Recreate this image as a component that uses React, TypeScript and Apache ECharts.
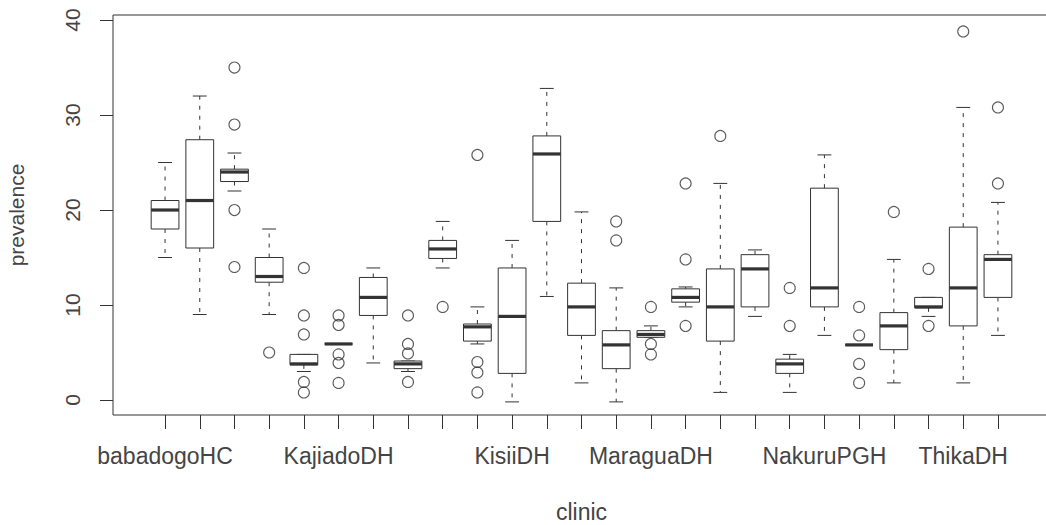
import React, { useEffect, useRef } from "react";
import * as echarts from "echarts";

// Tick labels (R drops overlapping ones; only these are visible)
const boxLabels = [
  "babadogoHC", "", "", "", "",
  "KajiadoDH", "", "", "", "",
  "KisiiDH", "", "", "",
  "MaraguaDH", "", "", "", "",
  "NakuruPGH", "", "", "",
  "ThikaDH", "",
];

const whiskerLow = [15, 9, 22, 9, 3, 5.9, 3.9, 3.0, 13.9, 5.9, -0.2, 10.9, 1.8, -0.2, 6.6, 9.8, 0.8, 8.8, 0.8, 6.8, 5.8, 1.8, 8.8, 1.8, 6.8];
const quartile1 = [18, 16, 23, 12.4, 3.7, 5.9, 8.9, 3.3, 14.9, 6.2, 2.8, 18.8, 6.8, 3.3, 6.6, 10.3, 6.2, 9.8, 2.8, 9.8, 5.8, 5.3, 9.7, 7.8, 10.8];
const medians = [20, 21, 24, 13, 3.8, 5.9, 10.8, 3.8, 15.9, 7.7, 8.8, 25.9, 9.8, 5.8, 6.9, 10.8, 9.8, 13.8, 3.8, 11.8, 5.8, 7.8, 9.8, 11.8, 14.8];
const quartile3 = [21, 27.4, 24.3, 15, 4.8, 5.9, 12.9, 4.1, 16.8, 8.0, 13.9, 27.8, 12.3, 7.3, 7.3, 11.7, 13.8, 15.3, 4.3, 22.3, 5.8, 9.2, 10.8, 18.2, 15.3];
const whiskerHigh = [25, 32, 26, 18, 4.8, 5.9, 13.9, 4.1, 18.8, 9.8, 16.8, 32.8, 19.8, 11.8, 7.8, 11.9, 22.8, 15.8, 4.8, 25.8, 5.8, 14.8, 10.8, 30.8, 20.8];
const outliers: number[][] = [
  [], [], [35, 29, 20, 14], [5], [13.9, 8.9, 6.9, 1.9, 0.8],
  [8.9, 7.9, 4.8, 3.9, 1.8], [], [8.9, 5.9, 4.9, 1.9], [9.8], [25.8, 4.0, 2.9, 0.8],
  [], [], [], [18.8, 16.8], [9.8, 5.9, 4.8],
  [22.8, 14.8, 7.8], [27.8], [], [11.8, 7.8], [],
  [9.8, 6.8, 3.8, 1.8], [19.8], [13.8, 7.8], [38.8], [30.8, 22.8],
];
const yTicks = [0, 10, 20, 30, 40];

const INK = "#333";
const TEXT = "#444";
const FONT = "Liberation Sans, Arial, sans-serif";

export default function App() {
  const ref = useRef<HTMLDivElement>(null);
  useEffect(() => {
    const chart = echarts.init(ref.current!, null, { renderer: "svg" });
    const n = boxLabels.length;
    const cats = ["pad-start", ...boxLabels.map((_, i) => String(i + 1)), "pad-end"];
    const boxData = boxLabels.map((_, i) => [
      i + 1, whiskerLow[i], quartile1[i], medians[i], quartile3[i], whiskerHigh[i],
    ]);
    const outlierData: number[][] = [];
    outliers.forEach((arr, i) => arr.forEach((v) => outlierData.push([i + 1, v])));

    const renderItem = (params: any, api: any) => {
      const x = api.value(0);
      const pLo = api.coord([x, api.value(1)]);
      const pQ1 = api.coord([x, api.value(2)]);
      const pMed = api.coord([x, api.value(3)]);
      const pQ3 = api.coord([x, api.value(4)]);
      const pHi = api.coord([x, api.value(5)]);
      const w = api.size([1, 0])[0] * 0.8;
      const cx = pMed[0];
      const hw = w / 2;
      const sw = w / 4;
      const thin = { stroke: INK, lineWidth: 1, fill: null };
      const dashed = { stroke: INK, lineWidth: 1, lineDash: [4, 6], fill: null };
      return {
        type: "group",
        children: [
          { type: "line", shape: { x1: cx, y1: pQ3[1], x2: cx, y2: pHi[1] }, style: dashed },
          { type: "line", shape: { x1: cx, y1: pQ1[1], x2: cx, y2: pLo[1] }, style: dashed },
          { type: "line", shape: { x1: cx - sw, y1: pHi[1], x2: cx + sw, y2: pHi[1] }, style: thin },
          { type: "line", shape: { x1: cx - sw, y1: pLo[1], x2: cx + sw, y2: pLo[1] }, style: thin },
          {
            type: "rect",
            shape: { x: cx - hw, y: pQ3[1], width: w, height: pQ1[1] - pQ3[1] },
            style: { stroke: INK, lineWidth: 1, fill: "#fff" },
          },
          { type: "line", shape: { x1: cx - hw, y1: pMed[1], x2: cx + hw, y2: pMed[1] }, style: { stroke: INK, lineWidth: 3.2 } },
        ],
      };
    };

    chart.setOption({
      animation: false,
      backgroundColor: "#fff",
      grid: {
        left: 113, right: -4, top: 15, bottom: 110,
        show: true, borderColor: INK, borderWidth: 1, backgroundColor: "transparent",
        containLabel: false, outerBoundsMode: "none",
      },
      xAxis: {
        type: "category",
        data: cats,
        boundaryGap: true,
        axisLine: { show: false, onZero: false },
        splitLine: { show: false },
        axisTick: {
          show: true,
          alignWithLabel: true,
          length: 14,
          lineStyle: { color: INK, width: 1 },
          interval: (idx: number) => idx >= 1 && idx <= n,
        },
        axisLabel: {
          show: true,
          interval: (idx: number) => idx >= 1 && idx <= n && boxLabels[idx - 1] !== "",
          formatter: (_v: string, idx: number) => (idx >= 1 && idx <= n ? boxLabels[idx - 1] : ""),
          fontSize: 23,
          fontFamily: FONT,
          color: TEXT,
          margin: 29,
        },
        name: "clinic",
        nameLocation: "middle",
        nameGap: 85,
        nameTextStyle: { fontSize: 23, fontFamily: FONT, color: TEXT },
      },
      yAxis: {
        type: "value",
        min: -1.58,
        max: 40.53,
        axisLine: { show: false, onZero: false },
        splitLine: { show: false },
        axisTick: {
          show: true,
          length: 13,
          lineStyle: { color: INK, width: 1 },
          customValues: yTicks,
        },
        axisLabel: {
          show: true,
          customValues: yTicks,
          rotate: 90,
          fontSize: 21,
          fontFamily: FONT,
          color: TEXT,
          margin: 30,
        },
        name: "prevalence",
        nameLocation: "middle",
        nameRotate: 90,
        nameGap: 86,
        nameTextStyle: { fontSize: 21, fontFamily: FONT, color: TEXT },
      },
      series: [
        {
          type: "custom",
          renderItem,
          data: boxData,
          encode: { x: 0, y: [1, 2, 3, 4, 5] },
          clip: false,
          z: 2,
        },
        {
          type: "scatter",
          data: outlierData,
          symbol: "circle",
          symbolSize: 11,
          itemStyle: { color: "rgba(255,255,255,0)", borderColor: INK, borderWidth: 1.1 },
          z: 3,
        },
      ],
    });
    return () => chart.dispose();
  }, []);
  return (
    <div
      ref={ref}
      style={{ position: "fixed", left: 0, top: 0, width: 1046, height: 525, background: "#fff" }}
    />
  );
}
